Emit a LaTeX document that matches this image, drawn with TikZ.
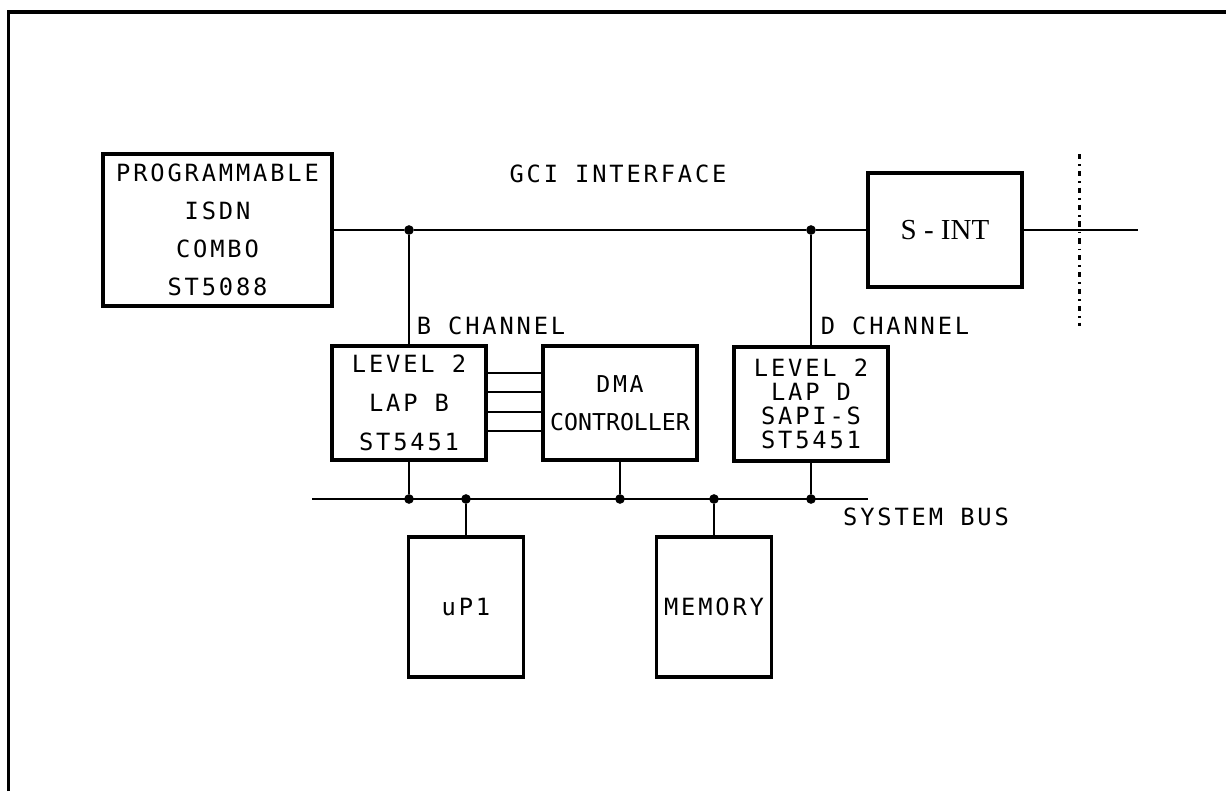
\documentclass[tikz,border=0pt]{standalone}
\usepackage{fontspec}
\usepackage{tikz}
\usetikzlibrary{positioning, calc}
\newfontfamily\plotfont[LetterSpace=12]{DejaVu Sans Mono}
\newfontfamily\plotnarrow[LetterSpace=0]{DejaVu Sans Mono}
\newfontfamily\timesfont{Liberation Serif}

\begin{document}
\begin{tikzpicture}[
    x=0.02cm, y=-0.02cm,
    block/.style={rectangle, draw, line width=1.8pt, align=center, inner sep=0pt,
                  font=\plotfont\fontsize{13.5}{21.5}\selectfont},
    wire/.style={line width=1.1pt},
    junction/.style={circle, fill, inner sep=0pt, minimum size=5.5pt},
    label/.style={inner sep=0pt, font=\plotfont\fontsize{13.5}{14}\selectfont}
]
\useasboundingbox (0,0) rectangle (1226,791);

% frame
\draw[line width=1.8pt] (8.5,791) -- (8.5,12) -- (1226,12);

% blocks
\node[block, minimum width=4.58cm, minimum height=3.04cm] (combo) at (217.5,230)
    {PROGRAMMABLE\\ISDN\\COMBO\\ST5088};
\node[block, minimum width=3.08cm, minimum height=2.28cm, font=\timesfont\fontsize{16.5}{18}\selectfont] (sint) at (945,230)
    {S - INT};
\node[block, minimum width=3.08cm, minimum height=2.28cm, font=\plotfont\fontsize{13.5}{22}\selectfont] (lapb) at (409,403)
    {LEVEL 2\\LAP B\\ST5451};
\node[block, minimum width=3.08cm, minimum height=2.28cm, font=\plotnarrow\fontsize{13.2}{21.5}\selectfont] (dma) at (620,403)
    {\plotfont DMA\\CONTROLLER};
\node[block, minimum width=3.08cm, minimum height=2.28cm, font=\plotfont\fontsize{13.5}{13.6}\selectfont] (lapd) at (811,404)
    {LEVEL 2\\LAP D\\SAPI-S\\ST5451};
\node[block, minimum width=2.3cm, minimum height=2.8cm] (up) at (466,607) {uP1};
\node[block, minimum width=2.3cm, minimum height=2.8cm] (mem) at (714,607) {MEMORY};

% labels
\node[label] (gci) at (618,174) {GCI INTERFACE};
\node[label] (bch) at (491,326) {B CHANNEL};
\node[label] (dch) at (895,326) {D CHANNEL};
\node[label] (sbus) at (926,517) {SYSTEM BUS};

% GCI line
\node[junction] (jb) at (409,230) {};
\node[junction] (jd) at (811,230) {};
\coordinate (lineend) at (1138,230);
\draw[wire] (combo.east) -- (jb) -- (jd) -- (sint.west);
\draw[wire] (sint.east) -- (lineend);
\draw[wire] (jb) -- (lapb.north);
\draw[wire] (jd) -- (lapd.north);

% line boundary
\coordinate (ttop) at (1079,154);
\coordinate (tbot) at (1079,326);
\draw[line width=1.7pt, dash pattern=on 3pt off 2.8pt on 1pt off 2.8pt] (ttop) -- (tbot);

% LAP B to DMA
\foreach \yy in {373,392,412,431}
    \draw[wire] (lapb.east |- 0,\yy) -- (dma.west |- 0,\yy);

% system bus
\coordinate (busl) at (312,499);
\coordinate (busr) at (868,499);
\draw[wire] (busl) -- (busr);
\node[junction] (b1) at (409,499) {};
\node[junction] (b2) at (466,499) {};
\node[junction] (b3) at (620,499) {};
\node[junction] (b4) at (714,499) {};
\node[junction] (b5) at (811,499) {};
\draw[wire] (lapb.south) -- (b1);
\draw[wire] (b2) -- (up.north);
\draw[wire] (dma.south) -- (b3);
\draw[wire] (b4) -- (mem.north);
\draw[wire] (lapd.south) -- (b5);

\end{tikzpicture}
\end{document}
